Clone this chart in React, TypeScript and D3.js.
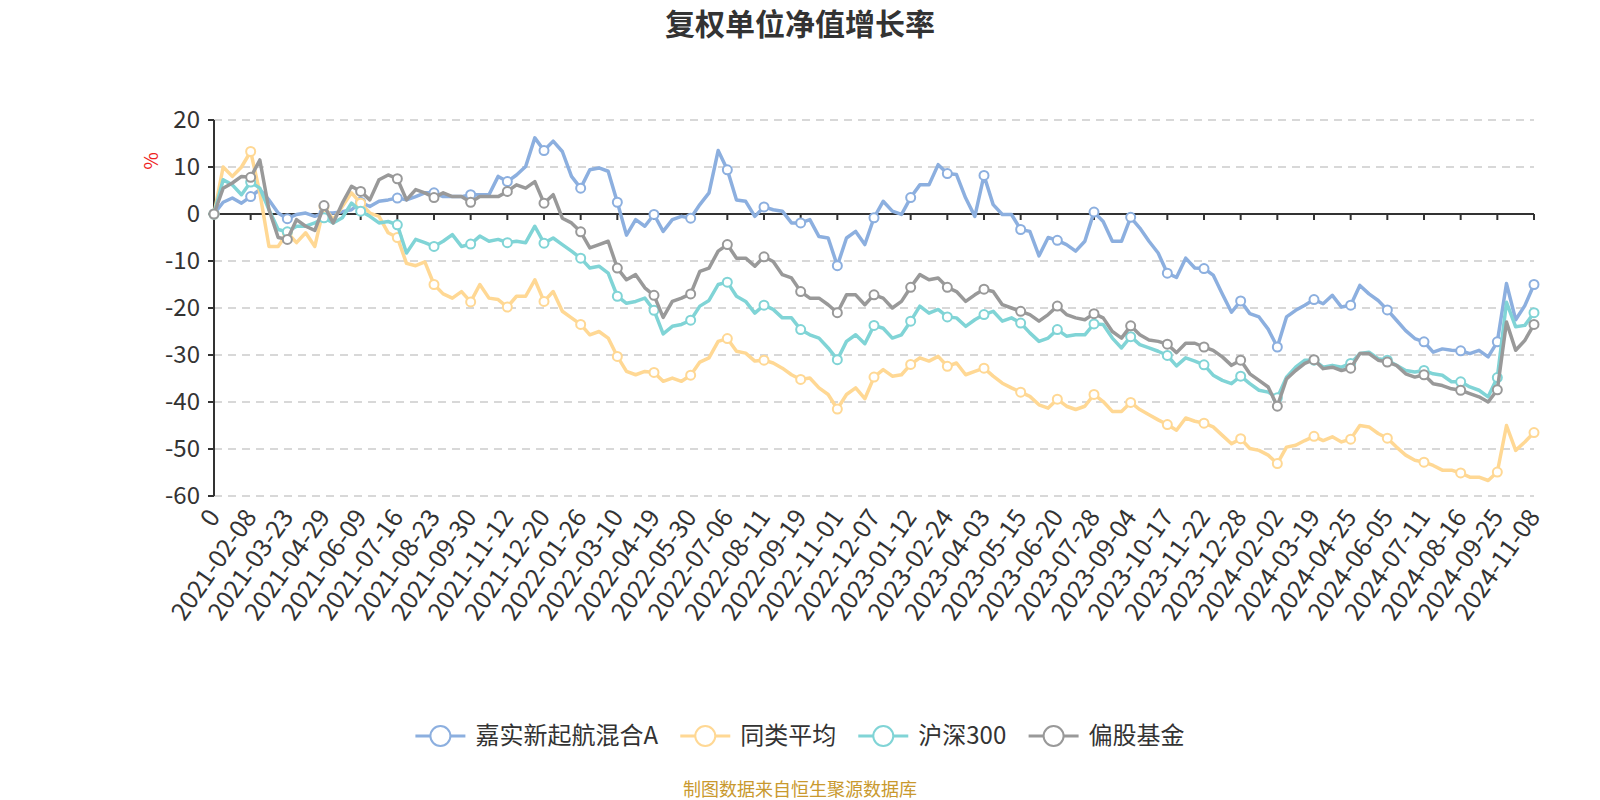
import React from 'react';
import * as d3 from 'd3';

// x-axis category labels (one every few trading days)
const dateLabels = [
  '0', '2021-02-08', '2021-03-23', '2021-04-29', '2021-06-09', '2021-07-16', '2021-08-23',
  '2021-09-30', '2021-11-12', '2021-12-20', '2022-01-26', '2022-03-10', '2022-04-19',
  '2022-05-30', '2022-07-06', '2022-08-11', '2022-09-19', '2022-11-01', '2022-12-07',
  '2023-01-12', '2023-02-24', '2023-04-03', '2023-05-15', '2023-06-20', '2023-07-28',
  '2023-09-04', '2023-10-17', '2023-11-22', '2023-12-28', '2024-02-02', '2024-03-19',
  '2024-04-25', '2024-06-05', '2024-07-11', '2024-08-16', '2024-09-25', '2024-11-08',
];

const seriesNames = ['嘉实新起航混合A', '同类平均', '沪深300', '偏股基金'];
const seriesColors = ['#8cafdf', '#ffd894', '#80d4d6', '#999999'];

// values, 4 per label interval (%)
const fundValues = [
  0, 2.5, 3.4, 2.3, 3.7, 5.2, 3, 0.2, -1, -0.1, 0.2, -0.5, 0.2, 0.2, 0.5, 0.9,
  2.5, 1.6, 2.7, 3, 3.4, 3, 3.7, 4.5, 4.5, 3.7, 3.7, 3.7, 4.1, 4.1, 4.1, 8,
  6.9, 8.3, 10.1, 16.2, 13.5, 15.5, 13.3, 8, 5.5, 9.4, 9.8, 9.1, 2.5, -4.5, -1.2, -2.6,
  -0.1, -3.7, -1.2, -0.5, -0.9, 2, 4.5, 13.5, 9.4, 3, 2.7, -0.5, 1.5, 0.9, 0.6, -1.9,
  -1.9, -1.2, -4.8, -5.1, -11, -5.1, -3.7, -6.5, -0.8, 2.7, 0.6, -0.1, 3.5, 6.2, 6.2, 10.5,
  8.6, 8.4, 3.4, -0.5, 8.2, 2, -0.1, -0.1, -3.3, -3.7, -8.9, -5, -5.6, -6.5, -7.9, -5.8,
  0.4, -1.6, -5.8, -5.8, -0.7, -3, -5.8, -8.3, -12.6, -13.5, -9.4, -11.5, -11.6, -13, -17, -20.9,
  -18.5, -21.2, -21.9, -24.5, -28.3, -21.9, -20.5, -19.4, -18.2, -19.1, -17.3, -19.8,
  -19.4, -15.2, -17, -18.4, -20.4, -22.6, -24.8, -26.5, -27.2, -29.4, -28.7, -29,
  -29.1, -29.7, -29, -30.4, -27.2, -14.8, -22.5, -19.5, -15,
];

const peerValues = [
  0, 10, 8, 10, 13.3, 4.5, -6.9, -6.9, -4, -6.1, -4, -6.9, 1.6, -1.2, 1.6, 4.5,
  2.3, 0.2, -0.5, -4, -5, -10.5, -11, -10.2, -15, -17, -17.9, -16.5, -18.7, -15, -17.9, -18.2,
  -19.8, -17.5, -17.5, -14, -18.6, -16.5, -20.7, -22.1, -23.5, -25.7, -25, -26.4,
  -30.3, -33.5, -34.2, -33.5, -33.7, -35.6, -34.9, -35.6, -34.3, -31.5, -30.6, -27.1,
  -26.5, -29.2, -29.6, -31.3, -31.1, -31.7, -32.8, -34.2, -35.2, -34.9, -37, -38.4,
  -41.5, -38.4, -37, -39.3, -34.7, -33.1, -34.5, -34.2, -32, -30.6, -31.3, -30.3,
  -32.4, -31.7, -34.2, -33.5, -32.8, -34.5, -36, -37, -37.9, -38.8, -40.6, -41.3,
  -39.4, -40.9, -41.6, -40.9, -38.4, -39.9, -42, -42, -40.1, -41.6, -42.7, -43.8,
  -44.8, -46, -43.4, -44.1, -44.5, -45.3, -47.1, -48.9, -47.8, -49.9, -50.3, -51.3,
  -53.1, -49.6, -49.2, -48.2, -47.3, -48.2, -47.4, -48.5, -47.9, -45, -45.3, -46.7,
  -47.7, -49.6, -51.3, -52.4, -52.8, -53.5, -54.5, -54.5, -55.1, -56, -56, -56.7,
  -54.9, -45, -50.3, -48.5, -46.5,
];

const hs300Values = [
  0, 7.3, 6.2, 4.1, 6.8, 5.5, 0.9, -3.3, -3.8, -2.6, -2.6, -1.9, -0.8, -1.9, -0.8, 2.3,
  0.6, -0.5, -1.9, -1.6, -2.3, -8.3, -5.4, -6.1, -6.9, -5.8, -4.4, -6.9, -6.4, -4.7, -5.8, -5.4,
  -6.1, -5.8, -6.1, -2.6, -6.2, -5.1, -6.5, -7.9, -9.4, -11.5, -11.1, -12.6,
  -17.5, -19, -18.6, -17.9, -20.5, -25.5, -23.9, -23.5, -22.6, -19.6, -18.4, -15,
  -14.5, -17.5, -18.6, -21.1, -19.4, -20.3, -22.1, -22.1, -24.6, -25.7, -26.4, -28.5,
  -31, -27.1, -25.7, -27.6, -23.7, -24.3, -26.4, -25.7, -22.8, -19.6, -21.1, -20.3,
  -21.9, -22.1, -23.9, -22.5, -21.4, -20.7, -22.8, -22.1, -23.2, -25.3, -27.1, -26.4,
  -24.6, -26, -25.7, -25.7, -23.4, -23.5, -26.4, -28.5, -26.1, -27.8, -28.5, -29.2,
  -30.1, -32.3, -30.6, -31.3, -32.1, -34.3, -35.4, -36.1, -34.5, -36.1, -37.5, -37.9,
  -39.1, -34.7, -32.6, -31.1, -31.1, -32.6, -32.2, -32.6, -31.8, -29.7, -29.4, -30.8,
  -31.1, -32.2, -33.3, -33.6, -33.3, -34, -34.3, -35.7, -35.7, -36.8, -37.5, -38.9,
  -34.8, -18.8, -24, -23.7, -21,
];

const equityFundValues = [
  0, 5.5, 6.6, 8, 7.8, 11.5, 0.9, -5, -5.4, -1.2, -2.6, -3.5, 1.8, -1.9, 2.3, 5.9,
  4.8, 3, 7.3, 8.3, 7.5, 3, 5.2, 4.5, 3.5, 4.5, 3.7, 3.7, 2.5, 3.7, 3.7, 3.7,
  4.8, 6.2, 5.5, 6.9, 2.3, 4.1, -0.9, -1.9, -3.8, -7.2, -6.5, -5.8,
  -11.5, -14, -12.9, -15.7, -17.3, -22, -18.6, -17.9, -17, -12.2, -11.5, -7.9,
  -6.5, -9.4, -9.4, -11.1, -9.1, -10.1, -12.9, -13.6, -16.5, -17.9, -17.9, -19.3,
  -21, -17.2, -17.2, -19.3, -17.2, -17.9, -20, -18.6, -15.6, -12.9, -14, -13.6,
  -15.6, -16.5, -18.6, -17.2, -16, -16.5, -19.3, -20, -20.7, -21.4, -22.8, -21.4,
  -19.6, -21.4, -22.1, -22.5, -21.2, -22.1, -25, -26.4, -23.8, -25.7, -26.8, -27.1,
  -27.7, -29.5, -27.5, -27.5, -28.3, -29, -30.4, -32.2, -31.1, -34, -35.4, -36.8,
  -40.9, -35.1, -33.3, -31.8, -31, -32.9, -32.6, -33.3, -32.8, -29.7, -29.7, -31.1,
  -31.5, -32.2, -34, -34.7, -34.2, -36.1, -36.5, -37.2, -37.5, -38.2, -38.9, -40,
  -37.4, -23, -29, -26.9, -23.5,
];

const yTicks = [20, 10, 0, -10, -20, -30, -40, -50, -60];

const STEPS = 4;
const FONT = '"Noto Sans CJK SC", "Noto Sans", sans-serif';
const plot = { left: 214, right: 1534, top: 120, bottom: 496 };

export default function App() {
  const allSeries = [fundValues, peerValues, hs300Values, equityFundValues];

  const x = d3.scaleLinear().domain([0, dateLabels.length - 1]).range([plot.left, plot.right]);
  const y = d3.scaleLinear().domain([-60, 20]).range([plot.bottom, plot.top]);

  const line = d3.line<number>()
    .defined(d => d != null)
    .x((_, i) => x(i / STEPS))
    .y(d => y(d));

  // legend layout, rough text widths
  const legendFont = 24;
  const textWidth = (s: string) =>
    Array.from(s).reduce((w, c) => w + (/[\u4e00-\u9fff]/.test(c) ? 1 : /[A-Z]/.test(c) ? 0.62 : 0.56) * legendFont, 0);
  const iconW = 50, iconGap = 10, itemGap = 22;
  const widths = seriesNames.map(n => iconW + iconGap + textWidth(n));
  const total = d3.sum(widths) + itemGap * (seriesNames.length - 1);
  let cursor = 800 - total / 2;
  const legendX = widths.map(w => { const p = cursor; cursor += w + itemGap; return p; });
  const legendY = 736;

  return (
    <svg width={1600} height={800} style={{ position: 'absolute', left: 0, top: 0, background: '#fff' }}
      fontFamily={FONT}>
      <text x={800} y={35} textAnchor="middle" fontSize={30} fontWeight="bold" fill="#333">复权单位净值增长率</text>

      <text transform={`translate(158,161) rotate(-90)`} textAnchor="middle" fontSize={19} fill="#ee2222">%</text>

      {/* grid */}
      {yTicks.filter(t => t !== 0).map(t => (
        <line key={t} x1={plot.left} x2={plot.right} y1={y(t)} y2={y(t)}
          stroke="#cccccc" strokeWidth={1.5} strokeDasharray="8 6" />
      ))}

      {/* y axis */}
      <line x1={plot.left} x2={plot.left} y1={y(20)} y2={y(-60)} stroke="#333" strokeWidth={2} />
      {yTicks.map(t => (
        <g key={t}>
          <line x1={plot.left - 6} x2={plot.left} y1={y(t)} y2={y(t)} stroke="#333" strokeWidth={2} />
          <text x={plot.left - 14} y={y(t)} dy="0.35em" textAnchor="end" fontSize={24} fill="#333">{t}</text>
        </g>
      ))}

      {/* x axis on zero */}
      <line x1={plot.left} x2={plot.right} y1={y(0)} y2={y(0)} stroke="#333" strokeWidth={2} />
      {dateLabels.map((d, i) => (
        <g key={d}>
          <line x1={x(i)} x2={x(i)} y1={y(0)} y2={y(0) + 6} stroke="#333" strokeWidth={2} />
          <text transform={`translate(${x(i)},${plot.bottom + 16}) rotate(-55)`} textAnchor="end"
            dy="0.35em" fontSize={25} fill="#333">{d}</text>
        </g>
      ))}

      {/* series */}
      {allSeries.map((vals, si) => (
        <g key={si}>
          <path d={line(vals) || ''} fill="none" stroke={seriesColors[si]} strokeWidth={3.5} strokeLinejoin="round" />
          {vals.map((v, i) => (i % STEPS === 0 || i === vals.length - 1) ? (
            <circle key={i} cx={x(i / STEPS)} cy={y(v)} r={4.5} fill="#fff" stroke={seriesColors[si]} strokeWidth={2} />
          ) : null)}
        </g>
      ))}

      {/* legend */}
      {seriesNames.map((n, i) => (
        <g key={n} transform={`translate(${legendX[i]},${legendY})`}>
          <line x1={0} x2={iconW} y1={0} y2={0} stroke={seriesColors[i]} strokeWidth={3} />
          <circle cx={iconW / 2} cy={0} r={10} fill="#fff" stroke={seriesColors[i]} strokeWidth={2} />
          <text x={iconW + iconGap} y={0} dy="0.35em" fontSize={legendFont} fill="#333">{n}</text>
        </g>
      ))}

      <text x={800} y={796} textAnchor="middle" fontSize={18} fill="#c9992e">制图数据来自恒生聚源数据库</text>
    </svg>
  );
}
